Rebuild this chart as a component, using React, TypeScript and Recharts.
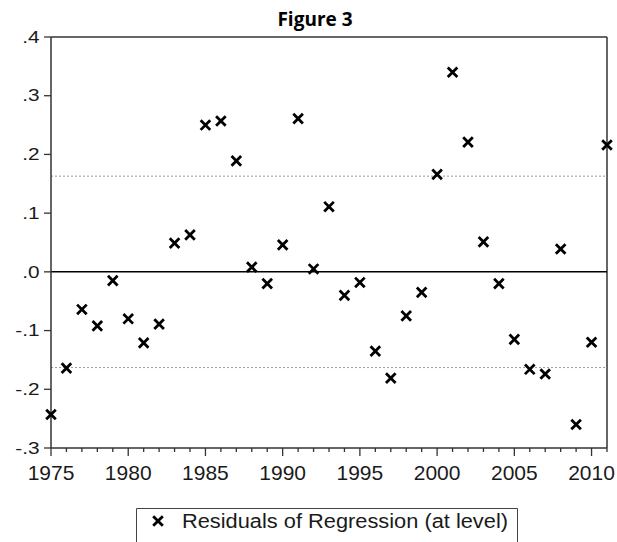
import { ScatterChart, Scatter, XAxis, YAxis, ReferenceLine, Legend } from 'recharts';

const years = [
  1975, 1976, 1977, 1978, 1979, 1980, 1981, 1982, 1983, 1984,
  1985, 1986, 1987, 1988, 1989, 1990, 1991, 1992, 1993, 1994,
  1995, 1996, 1997, 1998, 1999, 2000, 2001, 2002, 2003, 2004,
  2005, 2006, 2007, 2008, 2009, 2010, 2011
];

const residuals = [
  -0.243, -0.164, -0.064, -0.092, -0.015, -0.080, -0.121, -0.089, 0.049, 0.063,
  0.250, 0.257, 0.189, 0.008, -0.020, 0.046, 0.261, 0.005, 0.111, -0.040,
  -0.018, -0.135, -0.181, -0.075, -0.035, 0.166, 0.340, 0.221, 0.051, -0.020,
  -0.115, -0.166, -0.174, 0.039, -0.260, -0.120, 0.216
];

const yTicks = [-0.3, -0.2, -0.1, 0, 0.1, 0.2, 0.3, 0.4];
const yTickLabels = ['-.3', '-.2', '-.1', '.0', '.1', '.2', '.3', '.4'];
const bands = [0.163, -0.163];

const data = years.map((year, i) => ({ year, resid: residuals[i] }));

const FONT = '"Liberation Sans", Arial, sans-serif';
const TEXT = '#1a1a1a';
const FRAME = '#333';

const Cross = (props: any) => {
  const { cx, cy } = props;
  const r = 4.8;
  return (
    <path
      d={`M${cx - r},${cy - r}L${cx + r},${cy + r}M${cx - r},${cy + r}L${cx + r},${cy - r}`}
      stroke="#000"
      strokeWidth={2.8}
      fill="none"
    />
  );
};

const XTick = (props: any) => {
  const { x, y, payload } = props;
  const major = payload.value % 5 === 0;
  return (
    <g>
      <line x1={x} y1={y} x2={x} y2={y + (major ? 8 : 4)} stroke={FRAME} strokeWidth={1.3} />
      {major && payload.value < 2011 && (
        <text x={x} y={y + 32} textAnchor="middle" fontSize={21} fontFamily={FONT} fill={TEXT}>
          {payload.value}
        </text>
      )}
    </g>
  );
};

const YTick = (props: any) => {
  const { x, y, index } = props;
  return (
    <g>
      <line x1={x - 7} y1={y} x2={x} y2={y} stroke={FRAME} strokeWidth={1.3} />
      <g transform={`translate(${x - 11.5},${y})`}>
        <text transform="scale(1.3,1)" textAnchor="end" dy="0.36em" fontSize={16} fontFamily={FONT} fill={TEXT}>
          {yTickLabels[index]}
        </text>
      </g>
    </g>
  );
};

const LegendBox = (props: any) => {
  const item = props.payload && props.payload[0];
  return (
    <svg width={382} height={34} style={{ display: 'block' }}>
      <path d="M0.5,34V0.5H381.5V34" stroke="#444" strokeWidth={1} fill="none" />
      <Cross cx={22} cy={13} />
      <text x={46} y={19.5} fontSize={20} fontFamily={FONT} fill={TEXT} textLength={326} lengthAdjust="spacingAndGlyphs">
        {item ? item.value : ''}
      </text>
    </svg>
  );
};

export default function App() {
  return (
    <div style={{ position: 'absolute', left: 0, top: 0, width: 617, height: 542, background: '#fff' }}>
      <ScatterChart width={617} height={542} margin={{ top: 37, right: 10, left: 0, bottom: 44 }}>
        <text x={315} y={26} textAnchor="middle" fontFamily='"Open Sans", sans-serif' fontWeight={700} fontSize={19} fill="#000">
          Figure 3
        </text>
        <XAxis
          type="number"
          dataKey="year"
          domain={[1975, 2011]}
          ticks={years}
          interval={0}
          height={50}
          tickSize={0}
          tickMargin={0}
          tickLine={false}
          tick={<XTick />}
          axisLine={{ stroke: FRAME, strokeWidth: 1.5 }}
        />
        <YAxis
          type="number"
          dataKey="resid"
          domain={[-0.3, 0.4]}
          ticks={yTicks}
          interval={0}
          width={51}
          tickSize={0}
          tickMargin={0}
          tickLine={false}
          tick={<YTick />}
          axisLine={{ stroke: FRAME, strokeWidth: 1.5 }}
        />
        <ReferenceLine y={0.4} stroke={FRAME} strokeWidth={1.5} />
        <ReferenceLine x={2011} stroke={FRAME} strokeWidth={1.5} />
        {bands.map((b) => (
          <ReferenceLine key={b} y={b} stroke="#999" strokeWidth={1} strokeDasharray="2 2" />
        ))}
        <ReferenceLine y={0} stroke="#000" strokeWidth={1.5} />
        <Legend
          layout="horizontal"
          verticalAlign="middle"
          align="center"
          wrapperStyle={{ left: 136, top: 508, width: 382, height: 34 }}
          content={<LegendBox />}
        />
        <Scatter
          name="Residuals of Regression (at level)"
          data={data}
          shape={<Cross />}
          isAnimationActive={false}
        />
      </ScatterChart>
    </div>
  );
}
